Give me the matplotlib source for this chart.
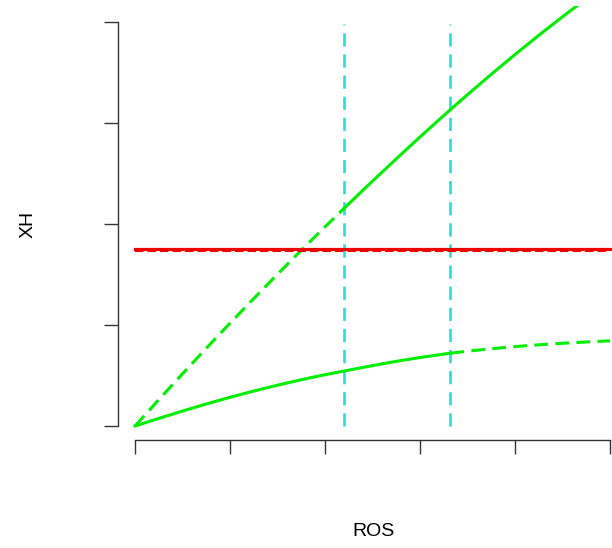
import matplotlib
matplotlib.use("Agg")
import matplotlib.pyplot as plt
import numpy as np

# Data
upper_x = [0, 0.25, 0.5, 0.75, 1.0, 1.25, 1.5, 1.75, 2.0, 2.25, 2.5, 2.75, 3.0,
           3.25, 3.5, 3.75, 4.0, 4.25, 4.5, 4.75]
upper_y = [0, 0.260, 0.517, 0.770, 1.018, 1.262, 1.503, 1.740, 1.972, 2.200, 2.425,
           2.645, 2.862, 3.074, 3.281, 3.482, 3.678, 3.868, 4.052, 4.230]
lower_x = [0, 0.25, 0.5, 0.75, 1.0, 1.25, 1.5, 1.75, 2.0, 2.25, 2.5, 2.75, 3.0,
           3.25, 3.5, 3.75, 4.0, 4.25, 4.5, 4.75, 5.0]
lower_y = [0, 0.075, 0.148, 0.218, 0.284, 0.346, 0.404, 0.458, 0.508, 0.553, 0.598,
           0.640, 0.678, 0.712, 0.741, 0.765, 0.786, 0.804, 0.819, 0.832, 0.843]
red_level = 1.75
vlines_x = [2.2, 3.32]
x_ticks = [0, 1, 2, 3, 4, 5]
y_ticks = [0, 1, 2, 3, 4]

plt.rcParams['font.family'] = ['Liberation Sans', 'DejaVu Sans']

W, H = 612, 548
fig = plt.figure(figsize=(W / 100, H / 100), dpi=100)
left_px, right_px, top_px, bot_px = 118, 612, 6, 440
ax = fig.add_axes([left_px / W, (H - bot_px) / H, (right_px - left_px) / W, (bot_px - top_px) / H])

def px_to_x(p):
    return (p - 135) / 95.0

def px_to_y(p):
    return (426 - p) / 101.0

ax.set_xlim(px_to_x(left_px), px_to_x(right_px))
ax.set_ylim(px_to_y(bot_px), px_to_y(top_px))

green = '#00EE00'
red = '#EE0000'
cyan = '#22E0E0'
lw = 2.2
dash = (0, (4.5, 2.4))

ux = np.array(upper_x); uy = np.array(upper_y)
lx = np.array(lower_x); ly = np.array(lower_y)
a, b = vlines_x

def segment(xarr, yarr, lo, hi):
    inner = xarr[(xarr > lo) & (xarr < hi)]
    xs = np.concatenate([[lo], inner, [hi]])
    return xs, np.interp(xs, xarr, yarr)

# upper curve: dashed before first cyan line, solid after
xs, ys = segment(ux, uy, 0, a)
ax.plot(xs, ys, color=green, lw=lw, linestyle=dash, zorder=3)
xs, ys = segment(ux, uy, a, ux[-1])
ax.plot(xs, ys, color=green, lw=lw, zorder=3)

# lower curve: solid up to second cyan line, dashed after
xs, ys = segment(lx, ly, 0, b)
ax.plot(xs, ys, color=green, lw=lw, zorder=3)
xs, ys = segment(lx, ly, b, lx[-1])
ax.plot(xs, ys, color=green, lw=lw, linestyle=dash, zorder=3)

# red horizontal line (solid over dashed)
ax.plot([0, 5], [red_level - 0.014, red_level - 0.014], color=red, lw=1.5,
        linestyle=(0, (4, 2)), zorder=4)
ax.plot([0, 5], [red_level + 0.006, red_level + 0.006], color=red, lw=2.3, zorder=4)

# cyan vertical lines
for v in vlines_x:
    ax.plot([v, v], [0, 3.98], color=cyan, lw=1.9, linestyle=(0, (5, 3)), zorder=2)

# axes styling
for s in ['top', 'right']:
    ax.spines[s].set_visible(False)
ax.spines['left'].set_bounds(0, 4)
ax.spines['bottom'].set_bounds(0, 5)
for s in ['left', 'bottom']:
    ax.spines[s].set_color('#333333')
    ax.spines[s].set_linewidth(1.0)
ax.set_xticks(x_ticks)
ax.set_yticks(y_ticks)
ax.tick_params(direction='out', length=10, width=1.0, color='#333333',
               labelleft=False, labelbottom=False)
ax.patch.set_alpha(0)

fig.text(28 / W, 1 - 224 / H, 'XH', rotation=90, ha='center', va='center', fontsize=14)
fig.text(373 / W, 1 - 532 / H, 'ROS', ha='center', va='center', fontsize=14)

fig.savefig('out.png', dpi=100)
